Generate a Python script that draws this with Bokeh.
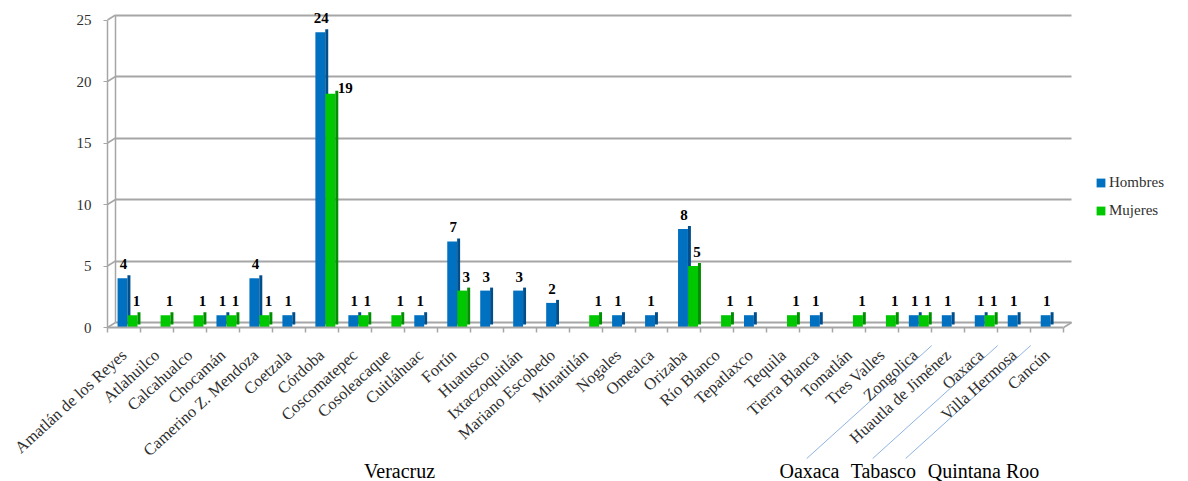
import numpy as np
from bokeh.plotting import figure
from bokeh.models import (Range1d, FixedTicker, Grid, Legend, LegendItem, ColumnDataSource)
from bokeh.embed import file_html
from bokeh.resources import INLINE
from bokeh.core.properties import value

# ---------------- data ----------------
municipios = ["Amatlán de los Reyes", "Atlahuilco", "Calcahualco", "Chocamán",
              "Camerino Z. Mendoza", "Coetzala", "Córdoba", "Coscomatepec", "Cosoleacaque",
              "Cuitláhuac", "Fortín", "Huatusco", "Ixtaczoquitlán", "Mariano Escobedo",
              "Minatitlán", "Nogales", "Omealca", "Orizaba", "Río Blanco", "Tepatlaxco",
              "Tequila", "Tierra Blanca", "Tomatlán", "Tres Valles", "Zongolica",
              "Huautla de Jiménez", "Oaxaca", "Villa Hermosa", "Cancún"]
hombres = [4, 0, 0, 1, 4, 1, 24, 1, 0, 1, 7, 3, 3, 2, 0, 1, 1, 8, 0, 1, 0, 1, 0, 0, 1, 1, 1, 1, 1]
mujeres = [1, 1, 1, 1, 1, 0, 19, 1, 1, 0, 3, 0, 0, 0, 1, 0, 0, 5, 1, 0, 1, 0, 1, 1, 1, 0, 1, 0, 0]
estados = ["Veracruz"] * 25 + ["Oaxaca", "Oaxaca", "Tabasco", "Quintana Roo"]
grupos = ["Veracruz", "Oaxaca", "Tabasco", "Quintana Roo"]
y_ticks = [0, 5, 10, 15, 20, 25]
series = ["Hombres", "Mujeres"]

# ---------------- layout constants ----------------
W, H = 1188, 481
AX_X, AX_Y = 107, 327          # canvas position of the axes origin
PPU_X = 32.97                  # pixels per category
PPU_Y = 12.3                   # pixels per unit of value
XMIN = -AX_X / PPU_X
XMAX = (W - AX_X) / PPU_X
YMAX = AX_Y / PPU_Y
YMIN = -(H - AX_Y) / PPU_Y

FONT = "Liberation Serif"
BLUE, BLUE_SIDE = "#0070C0", "#004E8C"
GREEN, GREEN_SIDE = "#00C800", "#008F00"
GRID_C = "#A6A6A6"
TXT = "#303030"

BAR_W = 0.30
SIDE_W = 0.09
RISE = 3 / PPU_Y
OFF_H, OFF_M = -0.045, 0.26
DX = 8 / PPU_X                 # 3D wall depth (x)
DY = 5 / PPU_Y                 # 3D wall depth (y)

n = len(municipios)
centers = [i + 0.5 for i in range(n)]
bounds_t = [i for i in range(n + 1)]


def bars(vals, off):
    xs = [centers[i] + off for i, v in enumerate(vals) if v > 0]
    vs = [v for v in vals if v > 0]
    return ColumnDataSource(dict(
        x=xs, top=vs,
        sx=[x + BAR_W / 2 + SIDE_W / 2 for x in xs],
        stop=[v + RISE for v in vs],
        lab=[str(v) for v in vs]))


src_h = bars(hombres, OFF_H)
src_m = bars(mujeres, OFF_M)

p = figure(width=W, height=H, output_backend="svg", toolbar_location=None,
           x_range=Range1d(XMIN, XMAX), y_range=Range1d(YMIN, YMAX),
           min_border=0)
p.outline_line_color = None
p.xgrid.visible = False
p.ygrid.visible = False

# back wall (3D look)
p.extra_y_ranges["wall"] = Range1d(YMIN - DY, YMAX - DY)
p.add_layout(Grid(dimension=1, ticker=FixedTicker(ticks=y_ticks), y_range_name="wall",
                  cross_bounds=(DX, n + DX), grid_line_color=GRID_C, grid_line_width=2))
p.add_layout(Grid(dimension=0, ticker=FixedTicker(ticks=[DX]), y_range_name="wall",
                  cross_bounds=(0, y_ticks[-1]), grid_line_color=GRID_C, grid_line_width=1.5))
p.segment(x0=[0] * len(y_ticks), y0=y_ticks, x1=[DX] * len(y_ticks),
          y1=[t + DY for t in y_ticks], line_color=GRID_C, line_width=1.5)
p.segment(x0=[n], y0=[0], x1=[n + DX], y1=[DY], line_color=GRID_C, line_width=1.5)

# bars
rb = p.vbar(x="x", top="top", width=BAR_W, source=src_h, fill_color=BLUE, line_color=None)
p.vbar(x="sx", top="stop", bottom=RISE, width=SIDE_W, source=src_h, fill_color=BLUE_SIDE, line_color=None)
rm = p.vbar(x="x", top="top", width=BAR_W, source=src_m, fill_color=GREEN, line_color=None)
p.vbar(x="sx", top="stop", bottom=RISE, width=SIDE_W, source=src_m, fill_color=GREEN_SIDE, line_color=None)

# value labels
lab_kw = dict(text="lab", text_font=value(FONT), text_font_style="bold", text_font_size="15px",
              text_color="#000000", text_align="center", text_baseline="bottom")
p.text(x="x", y="top", source=src_h, x_offset=1, y_offset=-9, **lab_kw)
d = src_m.data
above = [i for i, v in enumerate(d["top"]) if v < 10]
beside = [i for i, v in enumerate(d["top"]) if v >= 10]
src_ma = ColumnDataSource({k: [d[k][i] for i in above] for k in d})
src_mb = ColumnDataSource({k: [d[k][i] for i in beside] for k in d})
p.text(x="x", y="top", source=src_ma, x_offset=4, y_offset=-9, **lab_kw)
kw2 = dict(lab_kw, text_align="left", text_baseline="middle")
p.text(x="sx", y="top", source=src_mb, x_offset=1, y_offset=-6, **kw2)

# axes
xa = p.xaxis[0]
xa.fixed_location = 0
xa.ticker = FixedTicker(ticks=centers, minor_ticks=bounds_t)
xa.major_label_overrides = {c: m for c, m in zip(centers, municipios)}
xa.bounds = (0, n)
xa.major_tick_in = 0
xa.major_tick_out = 0
xa.minor_tick_in = 0
xa.minor_tick_out = 5
xa.minor_tick_line_color = GRID_C
xa.minor_tick_line_width = 1.5
xa.axis_line_color = GRID_C
xa.axis_line_width = 2
xa.major_label_orientation = 0.74
xa.major_label_standoff = 20
xa.major_label_text_font = FONT
xa.major_label_text_font_size = "16.5px"
xa.major_label_text_color = TXT

ya = p.yaxis[0]
ya.fixed_location = 0
ya.ticker = FixedTicker(ticks=y_ticks)
ya.bounds = (0, y_ticks[-1])
ya.axis_line_color = GRID_C
ya.axis_line_width = 1.5
ya.major_tick_line_color = GRID_C
ya.major_tick_in = 0
ya.major_tick_out = 4
ya.minor_tick_line_color = None
ya.major_label_standoff = 12
ya.major_label_text_font = FONT
ya.major_label_text_font_size = "15px"
ya.major_label_text_color = TXT

# legend (inside the frame, right side)
legend = Legend(items=[LegendItem(label=series[0], renderers=[rb]),
                       LegendItem(label=series[1], renderers=[rm])],
                location=(1095, 262), padding=0, margin=0, spacing=11,
                glyph_width=11, glyph_height=11, label_standoff=3, label_height=17,
                label_text_font=FONT, label_text_font_size="15px", label_text_color=TXT,
                border_line_color=None, background_fill_alpha=0)
p.add_layout(legend, "center")

# state group labels and separators (below the category labels)
grupo_x = [8.86, 21.29, 23.53, 26.57]
p.text(x=grupo_x, y=[-143 / PPU_Y] * len(grupos), text=grupos, text_font=value(FONT),
       text_font_size="20px", text_color="#000000", text_align="center", text_baseline="middle")
seps = [i for i in range(1, n) if estados[i] != estados[i - 1]]
p.segment(x0=seps, y0=[-18 / PPU_Y] * len(seps),
          x1=[b - 125 / PPU_X for b in seps], y1=[-131 / PPU_Y] * len(seps),
          line_color="#8EB4E3", line_width=1)

open("out.html", "w").write(file_html(p, INLINE))
